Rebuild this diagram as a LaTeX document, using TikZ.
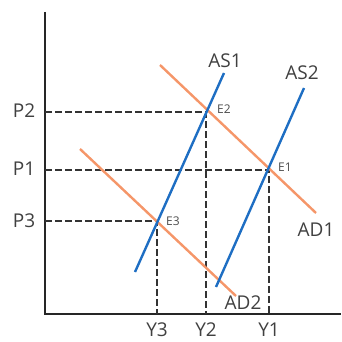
\documentclass[tikz,border=0pt]{standalone}
\usepackage{fontspec}
\setmainfont{Open Sans}
\begin{document}
\begin{tikzpicture}[x=1pt,y=-1pt,
  axisline/.style={line width=2.2pt,black!85},
  guide/.style={line width=2.2pt,black!80,dash pattern=on 7pt off 3pt},
  supply/.style={line width=2.4pt,color={rgb,255:red,30;green,110;blue,195}},
  demand/.style={line width=2.4pt,color={rgb,255:red,245;green,150;blue,105}},
  lbl/.style={font=\fontsize{19}{21}\selectfont,text=black!75,inner sep=0pt},
  elbl/.style={font=\fontsize{12}{13}\selectfont,text=black!70,inner sep=0pt,anchor=west}]
\useasboundingbox (0,0) rectangle (341,342);
% axes
\coordinate (O) at (45,314);
\coordinate (Ytop) at (45,12);
\coordinate (Xend) at (341,314);
\draw[axisline] (Ytop) -- (O) -- (Xend);
% equilibria
\coordinate (E1) at (269,170);
\coordinate (E2) at (206,112);
\coordinate (E3) at (157,221);
% guides
\coordinate (aP1) at (45,170);
\coordinate (aP2) at (45,112);
\coordinate (aP3) at (45,221);
\coordinate (aY1) at (269,314);
\coordinate (aY2) at (206,314);
\coordinate (aY3) at (157,314);
\draw[guide] (aP1) -- (E1) -- (aY1);
\draw[guide] (aP2) -- (E2) -- (aY2);
\draw[guide] (aP3) -- (E3) -- (aY3);
% curves
\coordinate (as1a) at (135,272); \coordinate (as1b) at (224,73);
\coordinate (as2a) at (216,287); \coordinate (as2b) at (304,88);
\coordinate (ad1a) at (160,65);  \coordinate (ad1b) at (316,213);
\coordinate (ad2a) at (80,149);  \coordinate (ad2b) at (236,296);
\draw[demand] (ad1a) -- (ad1b);
\draw[demand] (ad2a) -- (ad2b);
\draw[supply] (as1a) -- (as1b);
\draw[supply] (as2a) -- (as2b);
% labels
\node[lbl] (tAS1) at (225,61) {AS1};
\node[lbl] (tAS2) at (302,73) {AS2};
\node[lbl] (tAD1) at (316,230) {AD1};
\node[lbl] (tAD2) at (243,303) {AD2};
\node[lbl] (tP2) at (24,111) {P2};
\node[lbl] (tP1) at (24,169) {P1};
\node[lbl] (tP3) at (24,221) {P3};
\node[lbl] (tY3) at (157,330) {Y3};
\node[lbl] (tY2) at (206,330) {Y2};
\node[lbl] (tY1) at (269,330) {Y1};
\node[elbl] (tE2) at (217,109) {E2};
\node[elbl] (tE1) at (278,167) {E1};
\node[elbl] (tE3) at (166,221) {E3};
\end{tikzpicture}
\end{document}
